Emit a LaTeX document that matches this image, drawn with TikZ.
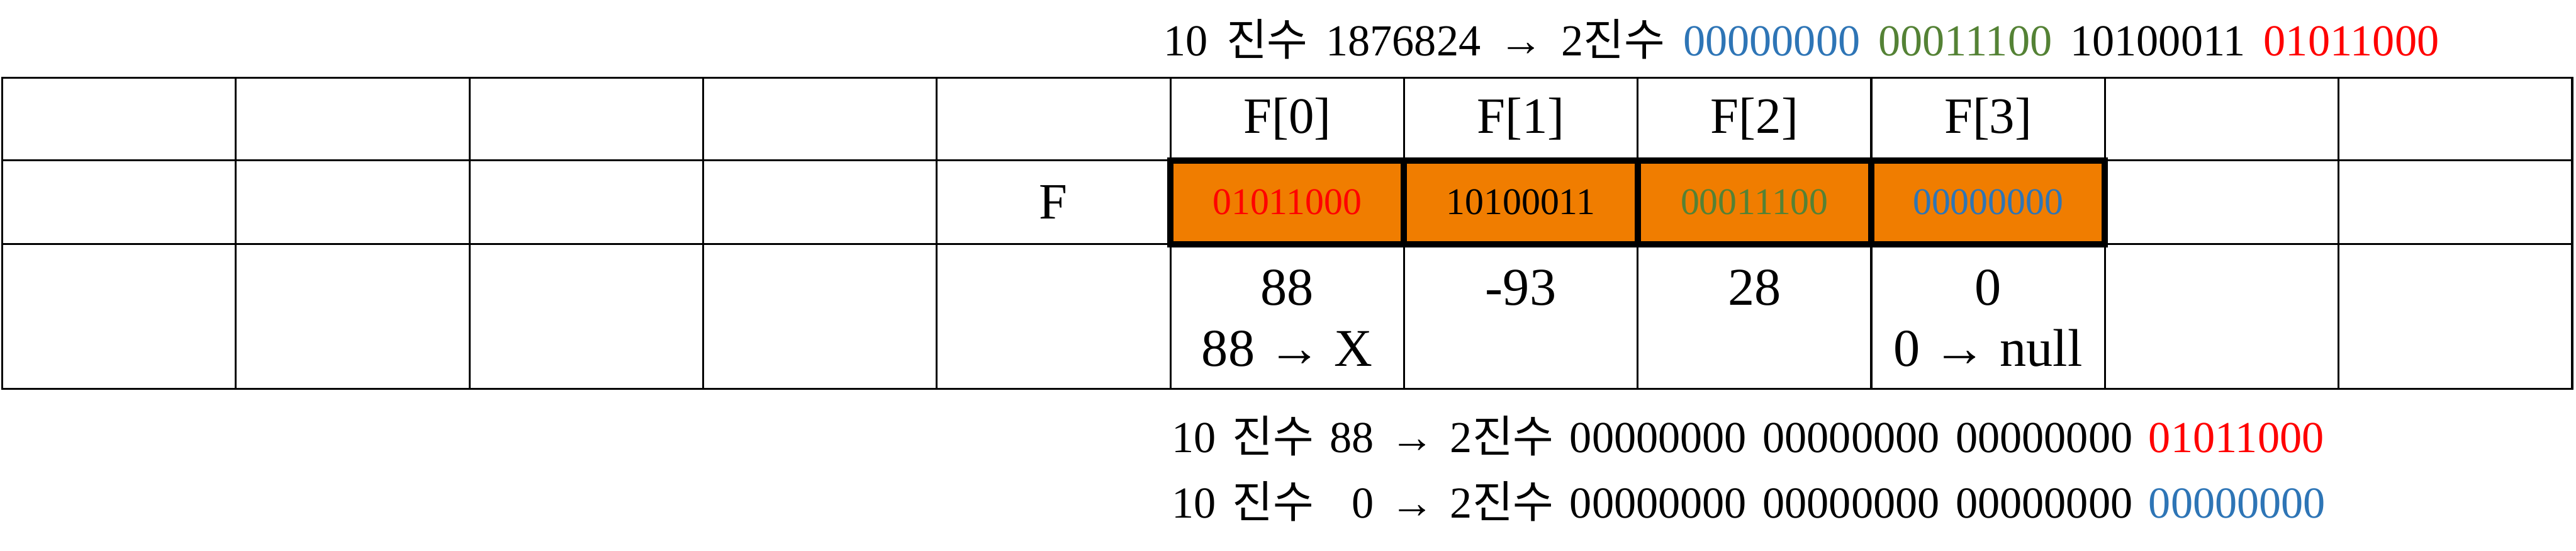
\documentclass[tikz,border=0pt]{standalone}
\usepackage{fontspec}
\setmainfont{Liberation Serif}
\newfontfamily\kor{Noto Sans CJK KR}
\usetikzlibrary{positioning}

\definecolor{cellorange}{RGB}{240,125,0}
\definecolor{bitblue}{RGB}{46,117,182}
\definecolor{bitgreen}{RGB}{84,130,53}
\definecolor{bitred}{RGB}{255,0,0}

\newcommand\widespace[1]{\spaceskip=#1 plus 0.1cm\relax}

\tikzset{
  cell/.style={draw, line width=0.9pt, minimum width=3.713cm, inner sep=0pt, anchor=north west},
  membox/.style={draw, fill=cellorange, line width=2.8pt, minimum width=3.713cm, minimum height=1.33cm, inner sep=0pt},
  idxlabel/.style={font=\fontsize{23}{27}\selectfont},
  bitlabel/.style={font=\fontsize{17}{20}\selectfont},
  vallabel/.style={font=\fontsize{24}{27.5}\selectfont, align=center, inner sep=0pt},
  note/.style={font=\fontsize{20}{24}\selectfont\widespace{#1}, anchor=west, inner sep=0pt},
  note/.default=0.29cm
}

\begin{document}
\begin{tikzpicture}[x=1cm, y=-1cm]
		\useasboundingbox (0,0) rectangle (40.94,8.74);

		% table grid
		\foreach \c in {0,...,10} {
			\node[cell, minimum height=1.31cm] (a\c) at (0.02+3.713*\c, 1.22) {};
			\node[cell, minimum height=1.33cm] (b\c) at (0.02+3.713*\c, 2.53) {};
			\node[cell, minimum height=2.30cm] (d\c) at (0.02+3.713*\c, 3.86) {};
		}

		% array F
		\node[idxlabel] (fname) at (b4.center) {F};
		\foreach \c/\i in {5/0, 6/1, 7/2, 8/3}
			\node[idxlabel] (idx\i) at (a\c.center) {F[\i]};
		\foreach \c/\bits/\col in {5/01011000/bitred, 6/10100011/black, 7/00011100/bitgreen, 8/00000000/bitblue}
			\node[membox, text=\col, bitlabel] (mem\c) at (b\c.center) {\bits};

		% values
		\node[vallabel, below=0.42cm of d5.north] (val0) {88\\88 → X};
		\node[vallabel, below=0.42cm of d6.north] (val1) {-93};
		\node[vallabel, below=0.42cm of d7.north] (val2) {28};
		\node[vallabel, below=0.42cm of d8.north] (val3) {0\\0 → null};

		% conversions
		\node[note] (dec) at (18.49, 0.62) {10 {\kor 진수} 1876824 → 2{\kor 진수} \textcolor{bitblue}{00000000} \textcolor{bitgreen}{00011100} 10100011 \textcolor{bitred}{01011000}};
		\node[note=0.255cm] (bin88) at (18.62, 6.92) {10 {\kor 진수} 88 → 2{\kor 진수} 00000000 00000000 00000000 \textcolor{bitred}{01011000}};
		\node[note=0.255cm] (bin0) at (18.62, 7.96) {10 {\kor 진수} \phantom{8}0 → 2{\kor 진수} 00000000 00000000 00000000 \textcolor{bitblue}{00000000}};
	\end{tikzpicture}
\end{document}
